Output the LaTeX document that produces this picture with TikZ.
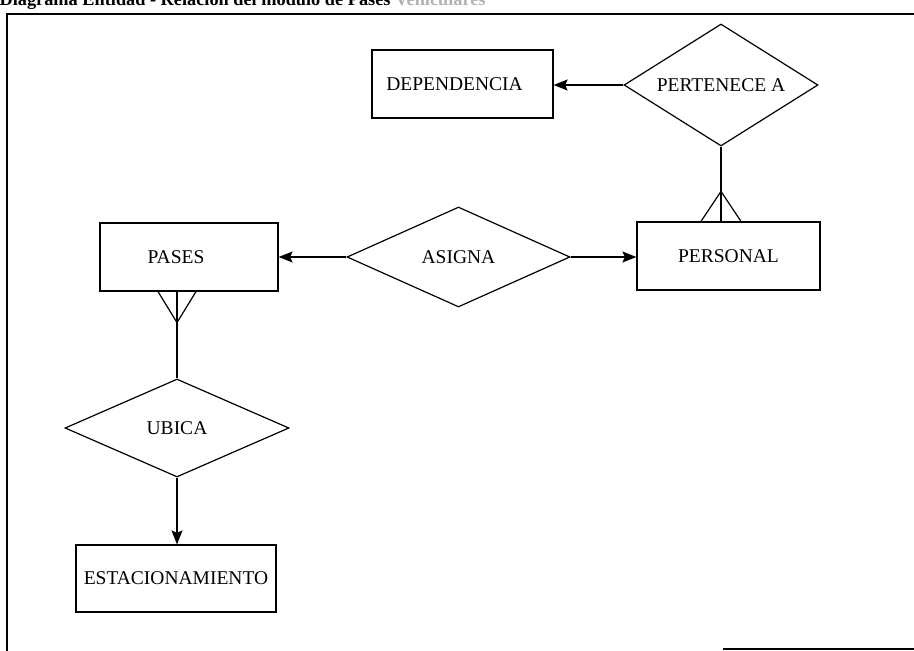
\documentclass[tikz,border=0pt]{standalone}
\usepackage{fontspec}
\setmainfont{Liberation Serif}
\usetikzlibrary{shapes.geometric,arrows.meta,calc}
\begin{document}
\begin{tikzpicture}[x=1pt,y=-1pt,
  line width=1.2pt,
  lbl/.style={font=\fontsize{19.5}{23}\selectfont},
  entity/.style={lbl,draw,rectangle,inner sep=0pt},
  relation/.style={lbl,draw,diamond,inner sep=0pt,aspect=2},
  tip/.style={-{Stealth[length=14pt,width=11pt,inset=2.5pt]}},
  frameline/.style={line width=1.1pt}]
\useasboundingbox (0,0) rectangle (914,651);
\begin{scope}
\clip (0,0) rectangle (914,651);

% heading of the page, only its lower half lies on the sheet
\node[anchor=base west,inner sep=0pt,font=\bfseries\fontsize{18.3}{22}\selectfont] (title) at (-1,5)
  {Diagrama Entidad - Relación del módulo de Pases \textcolor{black!30}{Vehiculares}};

% frame round the diagram
\draw[frameline] (7,651) -- (7,14) -- (914,14);
\draw[frameline] (723,649) -- (914,649);

% entities (labels sit a little left of centre in two boxes)
\node[entity,minimum width=181pt,minimum height=68pt] (dep) at (462.5,84) {DEPENDENCIA\kern16pt};
\node[entity,minimum width=183pt,minimum height=68pt] (personal) at (728.5,256) {PERSONAL};
\node[entity,minimum width=178pt,minimum height=68pt] (pases) at (189,257) {PASES\kern26pt};
\node[entity,minimum width=200pt,minimum height=67pt] (est) at (176,578.5) {ESTACIONAMIENTO};

% relationships
\node[relation,minimum width=194pt,minimum height=122pt] (pert) at (721,85) {PERTENECE A};
\node[relation,minimum width=223pt,minimum height=100pt] (asigna) at (458.5,257) {ASIGNA};
\node[relation,minimum width=224pt,minimum height=98pt] (ubica) at (177,428) {UBICA};

% one-side connectors
\draw[tip] (pert.west) -- (pert.west -| dep.east);
\draw[tip] (asigna.west) -- (asigna.west -| pases.east);
\draw[tip] (asigna.east) -- (asigna.east -| personal.west);
\draw[tip] (ubica.south) -- (ubica.south |- est.north);

% many-side connectors with crow's feet
\coordinate (pfoot) at (pert.south |- personal.north);
\draw (pert.south) -- (pfoot);
\draw ($(pfoot)+(-20,0)$) -- ($(pfoot)+(0,-30)$) -- ($(pfoot)+(20,0)$);

\coordinate (cfoot) at (ubica.north |- pases.south);
\draw (ubica.north) -- (cfoot);
\draw ($(cfoot)+(-19,0)$) -- ($(cfoot)+(0,31)$) -- ($(cfoot)+(19,0)$);
\end{scope}
\end{tikzpicture}
\end{document}
